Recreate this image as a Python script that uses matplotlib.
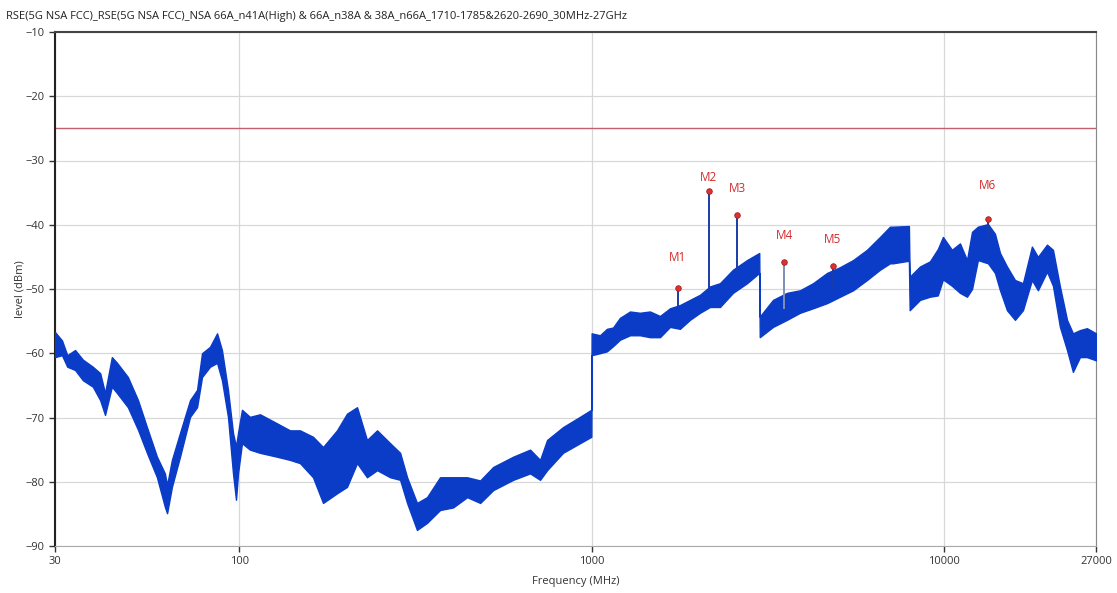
import matplotlib
matplotlib.use("Agg")
import matplotlib.pyplot as plt
from matplotlib.ticker import FixedLocator, NullLocator

# Spectrum envelope: frequency (MHz), band top / bottom (dBm)
freq = [30, 31.4, 32.5, 34.2, 36.0, 38.4, 40.3, 41.6, 43.5, 45.0, 48.3, 51.6,
        54.7, 58.4, 61.5, 62.4, 64.4, 67.9, 72.5, 75.9, 78.4, 82.6, 86.5, 89.3,
        92.9, 96.0, 97.9, 99.2, 101.8, 107.2, 114.5, 127.9, 139.3, 148.7, 161.9,
        172.9, 189.4, 202.2, 215.9, 230.4, 246.1, 268.0, 286.1, 299.4, 319.4,
        341.1, 371.4, 404.4, 443.3, 482.7, 525.6, 598.9, 668.9, 714.0, 747.5,
        829.3, 926.5, 998,
        1000, 1056, 1105, 1150, 1203, 1285, 1371, 1464, 1563, 1669, 1781, 1901,
        2030, 2167, 2313, 2518, 2760, 2990,
        3000, 3271, 3584, 3903, 4249, 4657, 5070, 5520, 6045, 6581, 7025, 7165,
        7950,
        7990, 8545, 9121, 9600, 9932, 10530, 11100, 11620, 12010, 12480,
        13330, 13950, 14420, 15090, 15900, 16750, 17760, 18470, 19600, 20380,
        21330, 22340, 23220, 24310, 25440, 27000]

level_top = [-56.7, -58.0, -60.3, -59.5, -61.0, -62.1, -63.1, -66.2, -60.6, -61.5,
             -63.7, -67.3, -71.5, -76.1, -78.7, -80.5, -76.6, -72.4, -67.3, -65.7,
             -60.0, -59.0, -56.9, -59.5, -65.7, -72.4, -74.5, -72.4, -68.8, -69.9,
             -69.5, -70.9, -72.0, -72.0, -73.0, -74.6, -72.0, -69.4, -68.4, -73.5,
             -72.0, -74.0, -75.5, -79.3, -83.3, -82.4, -79.3, -79.3, -79.3, -79.8,
             -77.7, -76.1, -75.0, -76.6, -73.5, -71.5, -69.9, -68.8,
             -56.9, -57.2, -56.2, -56.0, -54.5, -53.5, -53.7, -53.5, -54.2, -53.0,
             -52.5, -51.7, -50.9, -49.6, -49.1, -47.0, -45.5, -44.4,
             -54.3, -51.7, -50.6, -50.2, -49.1, -47.5, -46.6, -45.5, -43.9, -41.9,
             -40.3, -40.3, -40.2,
             -48.1, -46.5, -45.7, -43.8, -41.9, -43.9, -42.9, -45.5, -41.1,
             -40.3, -39.9, -41.4, -44.4, -46.5, -48.6, -49.1, -43.4, -45.0, -43.1,
             -43.9, -49.6, -54.8, -56.9, -56.4, -56.1, -56.9]

level_bottom = [-60.6, -60.3, -62.1, -62.6, -64.2, -65.2, -67.3, -69.6, -65.2, -66.2,
                -68.4, -71.9, -75.5, -79.3, -83.9, -84.9, -80.8, -76.1, -69.9, -68.4,
                -63.7, -62.1, -61.5, -64.2, -69.9, -78.7, -82.8, -78.7, -74.0, -75.0,
                -75.5, -76.1, -76.6, -77.1, -79.3, -83.3, -81.8, -80.8, -77.1, -79.3,
                -78.2, -79.3, -79.7, -83.3, -87.5, -86.4, -84.4, -84.0, -82.4, -83.3,
                -81.3, -79.7, -78.7, -79.7, -78.2, -75.5, -74.0, -73.0,
                -60.3, -60.0, -59.7, -58.9, -57.9, -57.2, -57.2, -57.5, -57.5, -55.9,
                -56.2, -54.8, -53.7, -52.8, -52.8, -50.6, -49.1, -47.5,
                -57.5, -55.9, -54.8, -53.7, -53.0, -52.2, -51.2, -50.2, -48.6, -47.0,
                -46.0, -46.0, -45.6,
                -53.3, -51.7, -51.2, -51.0, -48.5, -49.5, -50.6, -51.2, -50.0,
                -45.5, -46.0, -47.5, -50.2, -53.3, -54.8, -53.3, -48.6, -50.2, -47.3,
                -49.5, -55.9, -59.5, -62.9, -60.6, -60.6, -61.1]

# Markers
marker_names = ["M1", "M2", "M3", "M4", "M5", "M6"]
marker_freq = [1758, 2150, 2585, 3516, 4840, 13330]
marker_level = [-49.8, -34.8, -38.5, -45.8, -46.4, -39.1]
marker_base = [-52.5, -50.0, -47.0, -53.0, -50.0, -42.0]

limit_level = -25
x_ticks = [30, 100, 1000, 10000, 27000]
y_ticks = list(range(-90, 0, 10))

title = ("RSE(5G NSA FCC)_RSE(5G NSA FCC)_NSA 66A_n41A(High) & 66A_n38A & "
         "38A_n66A_1710-1785&2620-2690_30MHz-27GHz")

plt.rcParams['font.family'] = ['Open Sans', 'DejaVu Sans']
text_col = '#333333'
band_col = '#0a3cc8'

fig = plt.figure(figsize=(11.17, 5.93), dpi=100)
ax = fig.add_axes([55 / 1117, 1 - 546 / 593, 1041 / 1117, 514 / 593])

ax.set_xscale('log')
ax.set_xlim(30, 27000)
ax.set_ylim(-90, -10)

ax.fill_between(freq, level_bottom, level_top, color=band_col, lw=1.0,
                edgecolor=band_col, zorder=3)

# marker spikes, dots and labels (label offset in points above the dot)
label_dy = [22, 10, 19, 19, 19, 24]
for name, f, lv, base, dy in zip(marker_names, marker_freq, marker_level,
                                 marker_base, label_dy):
    spike_col = '#7f8fb8' if name == "M4" else '#1a3ca8'
    ax.plot([f, f], [base, lv], color=spike_col, lw=1.4, zorder=4)
    ax.plot(f, lv, 'o', ms=4, mfc='#e03030', mec='#a02020', mew=0.6, zorder=5)
    ax.annotate(name, (f, lv), xytext=(0, dy), textcoords='offset points',
                ha='center', va='center', color='#d42a2a', fontsize=8.5)

ax.axhline(limit_level, color='#c06070', lw=1.0, zorder=2)

ax.xaxis.set_major_locator(FixedLocator(x_ticks))
ax.xaxis.set_minor_locator(NullLocator())
ax.set_xticklabels([str(t) for t in x_ticks])
ax.set_yticks(y_ticks)
ax.grid(True, color='#d8d8d8', lw=0.9, zorder=0)
ax.set_axisbelow(True)
ax.tick_params(labelsize=8, colors=text_col, length=4, width=1)
for lbl in ax.get_xticklabels() + ax.get_yticklabels():
    lbl.set_color(text_col)

ax.spines['left'].set_color('#222222')
ax.spines['left'].set_linewidth(1.5)
ax.spines['top'].set_color('#444444')
ax.spines['top'].set_linewidth(1.5)
ax.spines['right'].set_color('#888888')
ax.spines['bottom'].set_color('#aaaaaa')

ax.set_xlabel('Frequency (MHz)', fontsize=8, color=text_col, labelpad=6)
ax.set_ylabel('level (dBm)', fontsize=8, color=text_col)
ax.yaxis.set_label_coords(-29 / 1041, 0.5)
fig.text(6 / 1117, 1 - 16 / 593, title, fontsize=8, color='#222222', va='center')

fig.savefig('out.png', dpi=100)
